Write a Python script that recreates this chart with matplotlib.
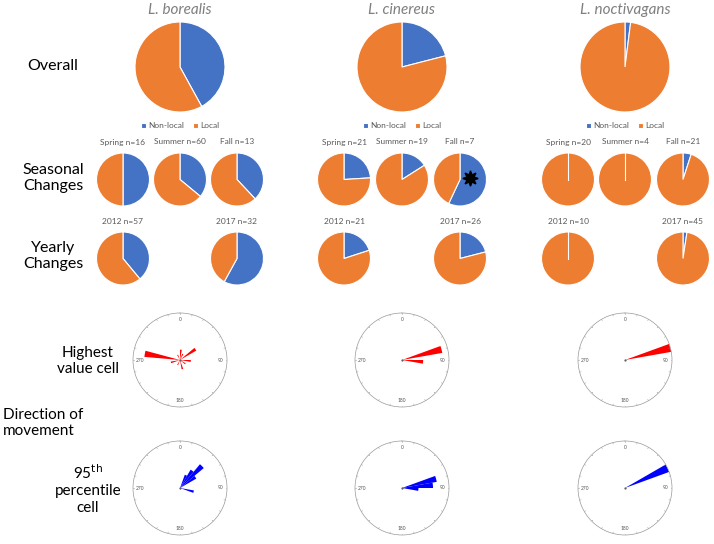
import numpy as np
import matplotlib
matplotlib.use("Agg")
import matplotlib.pyplot as plt

plt.rcParams['font.family'] = ['Lato', 'DejaVu Sans']

W, H = 714, 544

species = ['L. borealis', 'L. cinereus', 'L. noctivagans']
overall_nonlocal = [0.42, 0.21, 0.02]

season_labels = ['Spring', 'Summer', 'Fall']
season_n = [[16, 60, 13], [21, 19, 7], [20, 4, 21]]
season_nonlocal = [[0.50, 0.36, 0.38], [0.24, 0.16, 0.57], [0.0, 0.0, 0.05]]

year_labels = ['2012', '2017']
year_n = [[57, 32], [21, 26], [10, 45]]
year_nonlocal = [[0.39, 0.58], [0.20, 0.21], [0.0, 0.024]]

# rose plots: bin centre (deg, clockwise from north) and relative length
high_angles = [[5, 25, 55, 95, 125, 165, 205, 255, 280, 335], [75, 95], [75]]
high_vals = [[0.22, 0.14, 0.40, 0.23, 0.14, 0.20, 0.12, 0.20, 0.76, 0.12], [0.87, 0.45], [1.0]]
p95_angles = [[25, 35, 45, 55, 105], [75, 85, 95], [65]]
p95_vals = [[0.30, 0.45, 0.66, 0.40, 0.30], [0.75, 0.66, 0.35], [1.0]]

BLUE = '#4472C4'
ORANGE = '#ED7D31'
GREY = '#595959'

fig = plt.figure(figsize=(W / 100, H / 100), dpi=100)


def px_axes(cx, cy, r, **kw):
    return fig.add_axes([(cx - r) / W, 1 - (cy + r) / H, 2 * r / W, 2 * r / H], **kw)


def draw_pie(cx, cy, r, frac):
    ax = px_axes(cx, cy, r)
    wedges, _ = ax.pie([frac, 1 - frac], colors=[BLUE, ORANGE], startangle=90,
                       counterclock=False,
                       wedgeprops=dict(edgecolor='white', linewidth=0.8))
    if frac == 0:
        ax.plot([0, 0], [0, 1], color='white', lw=0.8)
    ax.set_xlim(-1, 1)
    ax.set_ylim(-1, 1)
    ax.set_aspect('equal')
    return ax, wedges


def ftext(x, y, s, **kw):
    fig.text(x / W, 1 - y / H, s, **kw)


def draw_rose(cx, cy, r, angles, vals, color):
    ax = px_axes(cx, cy, r, projection='polar')
    ax.set_theta_zero_location('N')
    ax.set_theta_direction(-1)
    ax.bar(np.deg2rad(angles), vals, width=np.deg2rad(10), color=color,
           edgecolor='none', align='center')
    ax.set_ylim(0, 1)
    ax.grid(False)
    ax.set_xticks([])
    ax.set_yticks([])
    ax.spines['polar'].set_color('#999999')
    ax.spines['polar'].set_linewidth(0.5)
    for a in range(0, 360, 15):
        ax.plot([np.deg2rad(a)] * 2, [0.97, 1.0], color='#999999', lw=0.4)
    for a, lab in [(0, '0'), (90, '90'), (180, '180'), (270, '270')]:
        ax.text(np.deg2rad(a), 0.86, lab, fontsize=3.5, color='#555555',
                ha='center', va='center')
    ax.plot([0], [0], marker='.', color='#555555', ms=1.2)


overall_x = [180, 402, 625]
season_x = [[123, 180, 237], [344, 402, 460], [568, 625, 683]]
year_x = [[123, 237], [344, 460], [568, 683]]

for i, sp in enumerate(species):
    ftext(overall_x[i], 10, sp, ha='center', va='center', fontsize=11,
          style='italic', color='#7F7F7F')
    ax, wedges = draw_pie(overall_x[i], 67, 45, overall_nonlocal[i])
    ax.legend(wedges, ['Non-local', 'Local'], loc='upper center',
              bbox_to_anchor=(0.5, -0.03), ncol=2, frameon=False, fontsize=6,
              handlelength=0.6, handleheight=0.6, handletextpad=0.3,
              columnspacing=1.0, labelcolor=GREY)

    for j, s in enumerate(season_labels):
        ftext(season_x[i][j], 142, f'{s} n={season_n[i][j]}', ha='center',
              va='center', fontsize=6, color=GREY)
        draw_pie(season_x[i][j], 179.5, 26.5, season_nonlocal[i][j])

    for j, yl in enumerate(year_labels):
        ftext(year_x[i][j], 221, f'{yl} n={year_n[i][j]}', ha='center',
              va='center', fontsize=6, color=GREY)
        draw_pie(year_x[i][j], 258.5, 26.5, year_nonlocal[i][j])

    draw_rose(overall_x[i], 360, 47, high_angles[i], high_vals[i], '#FF0000')
    draw_rose(overall_x[i], 488, 47, p95_angles[i], p95_vals[i], '#0000FF')

# star marker on L. cinereus fall pie
fig.add_artist(plt.Line2D([470 / W], [1 - 178 / H], marker=(8, 1, 0),
                          markersize=11, color='black', linestyle='none'))

# row labels
ftext(53, 66, 'Overall', ha='center', va='center', fontsize=11.5)
ftext(53, 178, 'Seasonal\nChanges', ha='center', va='center', fontsize=11.5,
      linespacing=1.25)
ftext(53, 256, 'Yearly\nChanges', ha='center', va='center', fontsize=11.5,
      linespacing=1.25)
ftext(88, 361, 'Highest\nvalue cell', ha='center', va='center', fontsize=11,
      linespacing=1.25)
ftext(3, 423, 'Direction of\nmovement', ha='left', va='center', fontsize=11,
      linespacing=1.25)
ftext(88, 489, '95$^{\\mathrm{th}}$\npercentile\ncell', ha='center',
      va='center', fontsize=11, linespacing=1.25)

fig.savefig('out.png', dpi=100)
